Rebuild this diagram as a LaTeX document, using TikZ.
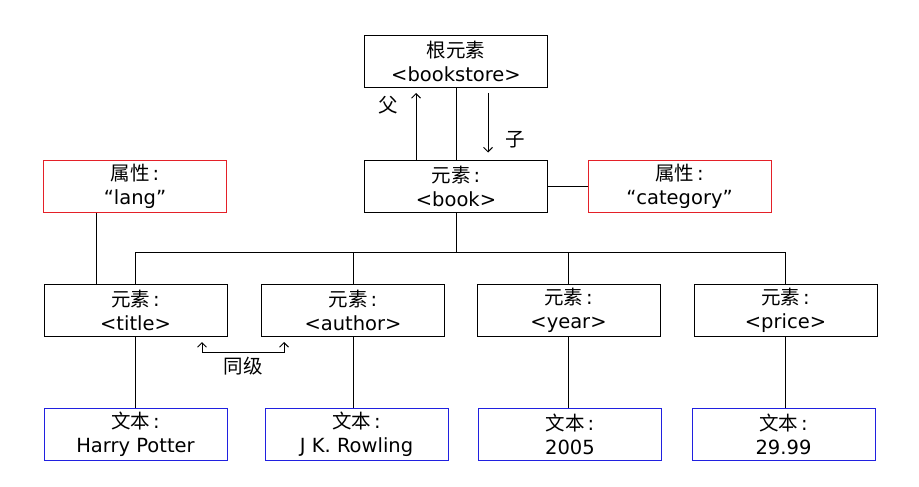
\documentclass[tikz,border=0pt]{standalone}
\usepackage{fontspec}
\setmainfont{DejaVu Sans}
\newfontfamily\cjk{Noto Sans CJK SC}
\usetikzlibrary{arrows.meta}
\definecolor{attrred}{RGB}{228,32,40}
\definecolor{textblue}{RGB}{32,32,224}
\newcommand{\cjkcolon}[1]{{\cjk #1}\hspace{3pt}:}
\begin{document}
\begin{tikzpicture}[x=1pt,y=-1pt,
  box/.style={draw, line width=1pt, minimum width=183pt, minimum height=52pt, align=center, inner sep=0pt, font=\fontsize{19.5}{24}\selectfont},
  elem/.style={box, draw=black},
  attr/.style={box, draw=attrred},
  txt/.style={box, draw=textblue},
  conn/.style={line width=1pt},
  barb/.tip={Straight Barb[length=4.5pt,width=9pt]},
  arr/.style={conn, -barb},
  lbl/.style={font=\cjk\fontsize{19.5}{22}\selectfont, inner sep=0pt}]
\fill[white] (0,0) rectangle (919,487);
\useasboundingbox (0,0) rectangle (919,487);

% nodes
\node[elem] (root) at (456,61.5) {{\cjk 根元素}\\<bookstore>};
\node[elem] (book) at (456,186) {\cjkcolon{元素}\\<book>};
\node[attr] (lang) at (135,186) {\cjkcolon{属性}\\“lang”};
\node[attr] (cat) at (679.5,186) {\cjkcolon{属性}\\“category”};

\node[elem] (title)  at (135.5,310.5) {\cjkcolon{元素}\\<title>};
\node[elem] (author) at (353,310.5)   {\cjkcolon{元素}\\<author>};
\node[elem] (year)   at (568.5,310.5) {\cjkcolon{元素}\\<year>};
\node[elem] (price)  at (785.5,310.5) {\cjkcolon{元素}\\<price>};

\node[txt] (t1) at (135.5,434.5) {\cjkcolon{文本}\\Harry Potter};
\node[txt] (t2) at (356.5,434.5) {\cjkcolon{文本}\\J K. Rowling};
\node[txt] (t3) at (570,434.5)   {\cjkcolon{文本}\\2005};
\node[txt] (t4) at (783.5,434.5) {\cjkcolon{文本}\\29.99};

% labels
\node[lbl] (fu) at (388,105) {父};
\node[lbl] (zi) at (515,140) {子};
\node[lbl] (tj) at (243,366) {同级};

% root - book
\draw[conn] (root.south) -- (book.north);
\draw[arr] ([xshift=-40]book.north) -- ([xshift=-40,yshift=-5]root.south);
\draw[arr] ([xshift=32,yshift=-5]root.south) -- ([xshift=32,yshift=7]book.north);

% book - category
\draw[conn] (book.east) -- (cat.west);

% bus
\coordinate (bus) at (456,252);
\draw[conn] (book.south) -- (book.south |- bus);
\draw[conn] (title.north) -- (title.north |- bus) -- (price.north |- bus) -- (price.north);
\draw[conn] (author.north) -- (author.north |- bus);
\draw[conn] (year.north) -- (year.north |- bus);

% lang - title
\draw[conn] ([xshift=-39]lang.south) -- ([xshift=-39]lang.south |- title.north);

% element - text
\draw[conn] (title.south) -- (title.south |- t1.north);
\draw[conn] (author.south) -- (author.south |- t2.north);
\draw[conn] (year.south) -- (year.south |- t3.north);
\draw[conn] (price.south) -- (price.south |- t4.north);

% sibling
\coordinate (s1) at ([xshift=66.5,yshift=-5]title.south);
\coordinate (s2) at ([xshift=-69,yshift=-5]author.south);
\draw[conn, barb-barb] (s1) -- ++(0,10) -| (s2);
\end{tikzpicture}
\end{document}
